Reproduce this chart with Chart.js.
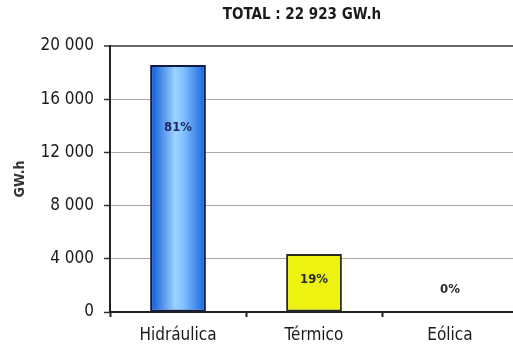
<!DOCTYPE html>
<html>
<head>
<meta charset="utf-8">
<script src="https://cdn.jsdelivr.net/npm/chart.js@4.4.0/dist/chart.umd.min.js"></script>
<style>
  html, body { margin: 0; padding: 0; background: #fff; overflow: hidden; }
  #wrap { width: 520px; height: 353px; }
</style>
</head>
<body>
<div id="wrap"><canvas id="chart"></canvas></div>
<script>
const categories = ['Hidráulica', 'Térmico', 'Eólica'];
const generation = [18568, 4355, 0];
const shareLabels = ['81%', '19%', '0%'];
const yTicks = [0, 4000, 8000, 12000, 16000, 20000];
const titleText = 'TOTAL : 22 923 GW.h';
const yTitle = 'GW.h';

const FONT = "'Liberation Sans Narrow', 'DejaVu Sans Condensed', Arial, sans-serif";

// where the share labels sit, in GWh on the y scale
const labelLevels = [13900, 2400, 1650];

function barFill(context) {
    const chart = context.chart;
    const area = chart.chartArea;
    if (!area) return '#4a9af0';
    if (context.dataIndex !== 0) return '#eef210';
    const x = chart.scales.x.getPixelForValue(0);
    const half = (area.right - area.left) / categories.length * 0.41 / 2;
    const g = chart.ctx.createLinearGradient(x - half, 0, x + half, 0);
    g.addColorStop(0, '#0a55d6');
    g.addColorStop(0.45, '#9dd2ff');
    g.addColorStop(0.6, '#82c0ff');
    g.addColorStop(1, '#1262dc');
    return g;
}

const extras = {
    id: 'extras',
    afterDatasetsDraw(chart) {
        const ctx = chart.ctx;
        const xs = chart.scales.x, ys = chart.scales.y;
        ctx.save();
        ctx.textAlign = 'center';
        ctx.textBaseline = 'middle';
        ctx.font = 'bold 13px ' + FONT;
        shareLabels.forEach((t, i) => {
            ctx.fillStyle = i === 0 ? '#1c2a66' : '#2a2a2a';
            ctx.fillText(t, xs.getPixelForValue(i), ys.getPixelForValue(labelLevels[i]));
        });
        ctx.font = 'bold 15px ' + FONT;
        ctx.fillStyle = '#1a1a1a';
        ctx.fillText(titleText, 302, 15);
        ctx.restore();
    }
};

new Chart(document.getElementById('chart'), {
    type: 'bar',
    data: {
        labels: categories,
        datasets: [{
            data: generation,
            backgroundColor: barFill,
            borderColor: ['#0e1c44', '#2a2a1a', '#222'],
            borderWidth: 2,
            borderSkipped: false,
            barPercentage: 0.41,
            categoryPercentage: 1
        }]
    },
    options: {
        responsive: true,
        maintainAspectRatio: false,
        animation: false,
        layout: { padding: { top: 46, right: 2, left: 0, bottom: 0 } },
        plugins: {
            legend: { display: false },
            tooltip: { enabled: false }
        },
        scales: {
            x: {
                grid: {
                    drawOnChartArea: false,
                    drawTicks: true,
                    tickLength: 5,
                    tickColor: '#222',
                    tickWidth: 2
                },
                border: { color: '#222', width: 2 },
                ticks: {
                    color: '#1a1a1a',
                    font: { family: FONT, size: 17 },
                    padding: 8
                },
                afterFit(s) { s.height = 41; }
            },
            y: {
                min: 0,
                max: 20000,
                afterBuildTicks(s) { s.ticks = yTicks.map(v => ({ value: v })); },
                grid: {
                    color: c => c.tick && c.tick.value === 20000 ? '#6e6470' : '#aea4aa',
                    lineWidth: c => c.tick && c.tick.value === 20000 ? 2 : 1,
                    tickLength: 6,
                    tickColor: '#333',
                    tickWidth: 1.5
                },
                border: { color: '#222', width: 2 },
                ticks: {
                    color: '#1a1a1a',
                    font: { family: FONT, size: 17 },
                    padding: 10,
                    callback: v => v === 0 ? '0' : String(v).replace(/(\d)(?=(\d{3})+$)/g, '$1 ')
                },
                title: {
                    display: true,
                    text: yTitle,
                    color: '#333',
                    font: { family: FONT, size: 14, weight: 'bold' },
                    padding: { top: 12, bottom: 0 }
                },
                afterFit(s) { s.width = 110; }
            }
        }
    },
    plugins: [extras]
});
</script>
</body>
</html>
